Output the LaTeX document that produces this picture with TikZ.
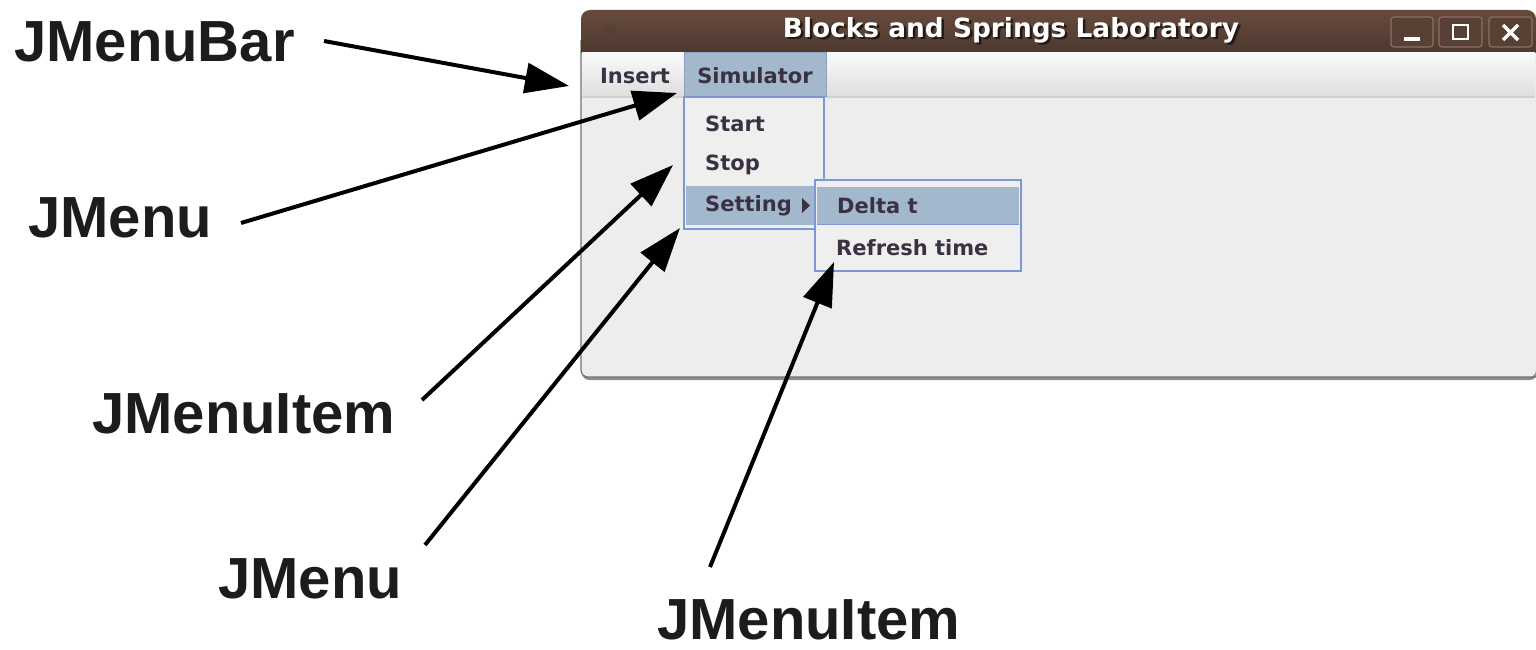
\documentclass[tikz,border=0pt]{standalone}
\usepackage{fontspec}
\setmainfont{Liberation Sans}
\newfontfamily\uifont{DejaVu Sans}
\usetikzlibrary{arrows.meta}
\definecolor{tbtop}{RGB}{104,74,61}
\definecolor{tbbot}{RGB}{76,57,47}
\definecolor{winbg}{RGB}{237,237,237}
\definecolor{hl}{RGB}{163,183,205}
\definecolor{hlb}{RGB}{140,162,190}
\definecolor{popb}{RGB}{124,151,212}
\definecolor{popbg}{RGB}{239,239,239}
\definecolor{uitext}{RGB}{58,49,66}
\definecolor{lbl}{RGB}{28,28,28}
\definecolor{btnb}{RGB}{140,112,98}
\definecolor{btnf}{RGB}{88,64,53}
\tikzset{
  lab/.style={anchor=base west, inner sep=0pt, text=lbl, font=\fontsize{58}{58}\selectfont\bfseries},
  ui/.style={inner sep=0pt, text=uitext, font=\uifont\fontsize{21}{21}\selectfont\bfseries},
  ptr/.style={line width=4pt, draw=black, -{Triangle[length=44pt,width=30pt]}},
  winbtn/.style={draw=btnb, fill=btnf, line width=1.2pt, rounded corners=3pt},
  popup/.style={fill=popbg, draw=popb, line width=1.5pt},
}
\begin{document}
\begin{tikzpicture}[x=1pt,y=-1pt]
\useasboundingbox (0,0) rectangle (1536,650);
\fill[white] (0,0) rectangle (1536,650);
% window body
\fill[black!45, rounded corners=7pt] (582,42) rectangle (1537,380);
\fill[winbg, rounded corners=7pt] (581,40) rectangle (1536,377);
\draw[black!55, line width=1.2pt, rounded corners=7pt] (581,40) -- (581,377) -- (1536,377);
% title bar
\shade[top color=tbtop, bottom color=tbbot] (581,53) {[rounded corners=9pt] -- (581,10) -- (1536,10)} -- (1536,53) -- cycle;
\node[circle, minimum size=12pt, inner sep=0pt, fill=btnf, draw=black!40!btnb, line width=1.2pt] (dot) at (611,31) {};
\node[inner sep=0pt, text=black, opacity=0.6, font=\uifont\fontsize{26.4}{26.4}\selectfont\bfseries] (ttlsh) at (1013.5,32.5) {Blocks and Springs Laboratory};
\node[inner sep=0pt, text=white, font=\uifont\fontsize{26.4}{26.4}\selectfont\bfseries] (ttl) at (1011,30) {Blocks and Springs Laboratory};
% window buttons
\draw[winbtn] (1391,17) rectangle (1433,47);
\draw[winbtn] (1439,17) rectangle (1482,47);
\draw[winbtn] (1489,17) rectangle (1532,47);
\fill[white] (1404,37) rectangle (1420,41);
\draw[white, line width=2.5pt] (1453,25) rectangle (1468,39);
\draw[white, line width=3.5pt] (1503,25) -- (1518,40) (1503,40) -- (1518,25);
% menu bar
\shade[top color=white!98!black, bottom color=white!87!black] (582,53) rectangle (1535,97);
\draw[black!18, line width=1.5pt] (582,97) -- (1535,97);
\fill[hl] (684,53) rectangle (826,97);
\draw[hlb, line width=1pt] (684,53) rectangle (826,97);
\node[ui] (insert) at (635,76) {Insert};
\node[ui] (sim) at (755,76) {Simulator};
% popup menu
\draw[popup] (684,97) rectangle (824,229);
\fill[hl] (686,186) rectangle (822,225);
\node[ui, anchor=west] (start) at (705,124) {Start};
\node[ui, anchor=west] (stop) at (705,165) {Stop};
\node[ui, anchor=west] (setting) at (705,206) {Setting};
\fill[uitext] (802,198) -- (810,205.5) -- (802,213) -- cycle;
% submenu
\draw[popup] (815,180) rectangle (1021,271);
\fill[hl] (817,187) rectangle (1019,224);
\draw[popb, line width=1pt] (817,224) -- (1019,224);
\node[ui, anchor=west] (delta) at (837,206) {Delta t};
\node[ui, anchor=west] (refresh) at (836,248) {Refresh time};
% labels
\node[lab] (lbar) at (14,62) {JMenuBar};
\node[lab] (lmenu1) at (28,237) {JMenu};
\node[lab] (litem1) at (92,433) {JMenuItem};
\node[lab] (lmenu2) at (218,598) {JMenu};
\node[lab] (litem2) at (657,639) {JMenuItem};
% arrow endpoints
\coordinate (s1) at (324,41);
\coordinate (t1) at (569,86);
\coordinate (s2) at (241,223);
\coordinate (t2) at (677,93);
\coordinate (s3) at (422,400);
\coordinate (t3) at (673,165);
\coordinate (s4) at (425,545);
\coordinate (t4) at (680,228);
\coordinate (s5) at (710,567);
\coordinate (t5) at (834,262);
\draw[ptr] (s1) -- (t1);
\draw[ptr] (s2) -- (t2);
\draw[ptr] (s3) -- (t3);
\draw[ptr] (s4) -- (t4);
\draw[ptr] (s5) -- (t5);
\end{tikzpicture}
\end{document}
